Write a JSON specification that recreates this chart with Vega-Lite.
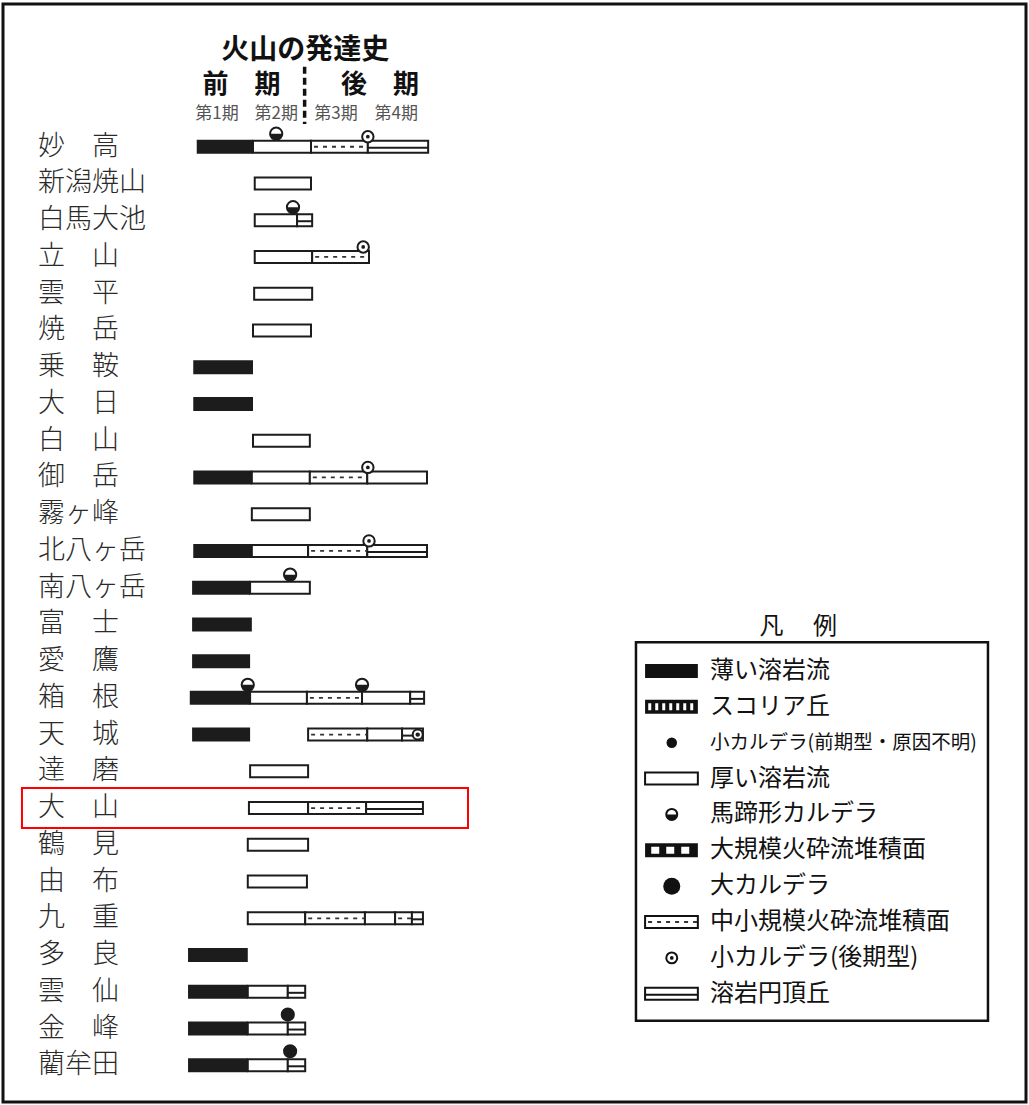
{
  "$schema": "https://vega.github.io/schema/vega-lite/v6.json",
  "width": 1029,
  "height": 1105,
  "autosize": {"type": "fit", "contains": "padding"},
  "padding": {"left": 3, "top": 4, "right": 3, "bottom": 3},
  "background": "white",
  "config": {"view": {"stroke": "#111111", "strokeWidth": 3}, "font": "Noto Sans CJK JP"},
  "datasets": {
    "volcanoes": [
      {"row": 0, "name": "妙高", "label": "妙　高"},
      {"row": 1, "name": "新潟焼山", "label": "新潟焼山"},
      {"row": 2, "name": "白馬大池", "label": "白馬大池"},
      {"row": 3, "name": "立山", "label": "立　山"},
      {"row": 4, "name": "雲平", "label": "雲　平"},
      {"row": 5, "name": "焼岳", "label": "焼　岳"},
      {"row": 6, "name": "乗鞍", "label": "乗　鞍"},
      {"row": 7, "name": "大日", "label": "大　日"},
      {"row": 8, "name": "白山", "label": "白　山"},
      {"row": 9, "name": "御岳", "label": "御　岳"},
      {"row": 10, "name": "霧ヶ峰", "label": "霧ヶ峰"},
      {"row": 11, "name": "北八ヶ岳", "label": "北八ヶ岳"},
      {"row": 12, "name": "南八ヶ岳", "label": "南八ヶ岳"},
      {"row": 13, "name": "富士", "label": "富　士"},
      {"row": 14, "name": "愛鷹", "label": "愛　鷹"},
      {"row": 15, "name": "箱根", "label": "箱　根"},
      {"row": 16, "name": "天城", "label": "天　城"},
      {"row": 17, "name": "達磨", "label": "達　磨"},
      {"row": 18, "name": "大山", "label": "大　山"},
      {"row": 19, "name": "鶴見", "label": "鶴　見"},
      {"row": 20, "name": "由布", "label": "由　布"},
      {"row": 21, "name": "九重", "label": "九　重"},
      {"row": 22, "name": "多良", "label": "多　良"},
      {"row": 23, "name": "雲仙", "label": "雲　仙"},
      {"row": 24, "name": "金峰", "label": "金　峰"},
      {"row": 25, "name": "藺牟田", "label": "藺牟田"}
    ],
    "segs": [
      {"name": "妙高", "row": 0, "type": "thin", "start": 0.03, "end": 1.0},
      {"name": "妙高", "row": 0, "type": "thick", "start": 1.0, "end": 2.0},
      {"name": "妙高", "row": 0, "type": "pyro", "start": 2.0, "end": 2.98},
      {"name": "妙高", "row": 0, "type": "dome", "start": 2.98, "end": 4.02},
      {"name": "新潟焼山", "row": 1, "type": "thick", "start": 1.03, "end": 2.0},
      {"name": "白馬大池", "row": 2, "type": "thick", "start": 1.03, "end": 1.76},
      {"name": "白馬大池", "row": 2, "type": "dome", "start": 1.76, "end": 2.02},
      {"name": "立山", "row": 3, "type": "thick", "start": 1.03, "end": 2.02},
      {"name": "立山", "row": 3, "type": "pyro", "start": 2.02, "end": 3.0},
      {"name": "雲平", "row": 4, "type": "thick", "start": 1.02, "end": 2.02},
      {"name": "焼岳", "row": 5, "type": "thick", "start": 1.0, "end": 2.0},
      {"name": "乗鞍", "row": 6, "type": "thin", "start": -0.03, "end": 1.0},
      {"name": "大日", "row": 7, "type": "thin", "start": -0.03, "end": 1.0},
      {"name": "白山", "row": 8, "type": "thick", "start": 1.0, "end": 1.98},
      {"name": "御岳", "row": 9, "type": "thin", "start": -0.03, "end": 0.98},
      {"name": "御岳", "row": 9, "type": "thick", "start": 0.98, "end": 1.98},
      {"name": "御岳", "row": 9, "type": "pyro", "start": 1.98, "end": 2.97},
      {"name": "御岳", "row": 9, "type": "thick", "start": 2.97, "end": 4.0},
      {"name": "霧ヶ峰", "row": 10, "type": "thick", "start": 0.98, "end": 1.98},
      {"name": "北八ヶ岳", "row": 11, "type": "thin", "start": -0.03, "end": 0.98},
      {"name": "北八ヶ岳", "row": 11, "type": "thick", "start": 0.98, "end": 1.95},
      {"name": "北八ヶ岳", "row": 11, "type": "pyro", "start": 1.95, "end": 2.97},
      {"name": "北八ヶ岳", "row": 11, "type": "dome", "start": 2.97, "end": 4.0},
      {"name": "南八ヶ岳", "row": 12, "type": "thin", "start": -0.05, "end": 0.95},
      {"name": "南八ヶ岳", "row": 12, "type": "thick", "start": 0.95, "end": 1.98},
      {"name": "富士", "row": 13, "type": "thin", "start": -0.05, "end": 0.98},
      {"name": "愛鷹", "row": 14, "type": "thin", "start": -0.05, "end": 0.95},
      {"name": "箱根", "row": 15, "type": "thin", "start": -0.09, "end": 0.95},
      {"name": "箱根", "row": 15, "type": "thick", "start": 0.95, "end": 1.93},
      {"name": "箱根", "row": 15, "type": "pyro", "start": 1.93, "end": 2.88},
      {"name": "箱根", "row": 15, "type": "thick", "start": 2.88, "end": 3.71},
      {"name": "箱根", "row": 15, "type": "dome", "start": 3.71, "end": 3.95},
      {"name": "天城", "row": 16, "type": "thin", "start": -0.05, "end": 0.95},
      {"name": "天城", "row": 16, "type": "pyro", "start": 1.95, "end": 2.97},
      {"name": "天城", "row": 16, "type": "thick", "start": 2.97, "end": 3.57},
      {"name": "天城", "row": 16, "type": "dome", "start": 3.57, "end": 3.93},
      {"name": "達磨", "row": 17, "type": "thick", "start": 0.95, "end": 1.95},
      {"name": "大山", "row": 18, "type": "thick", "start": 0.93, "end": 1.95},
      {"name": "大山", "row": 18, "type": "pyro", "start": 1.95, "end": 2.95},
      {"name": "大山", "row": 18, "type": "dome", "start": 2.95, "end": 3.93},
      {"name": "鶴見", "row": 19, "type": "thick", "start": 0.91, "end": 1.95},
      {"name": "由布", "row": 20, "type": "thick", "start": 0.91, "end": 1.93},
      {"name": "九重", "row": 21, "type": "thick", "start": 0.91, "end": 1.9},
      {"name": "九重", "row": 21, "type": "pyro", "start": 1.9, "end": 2.93},
      {"name": "九重", "row": 21, "type": "thick", "start": 2.93, "end": 3.45},
      {"name": "九重", "row": 21, "type": "pyro", "start": 3.45, "end": 3.74},
      {"name": "九重", "row": 21, "type": "dome", "start": 3.74, "end": 3.93},
      {"name": "多良", "row": 22, "type": "thin", "start": -0.12, "end": 0.91},
      {"name": "雲仙", "row": 23, "type": "thin", "start": -0.12, "end": 0.91},
      {"name": "雲仙", "row": 23, "type": "thick", "start": 0.91, "end": 1.6},
      {"name": "雲仙", "row": 23, "type": "dome", "start": 1.6, "end": 1.9},
      {"name": "金峰", "row": 24, "type": "thin", "start": -0.12, "end": 0.91},
      {"name": "金峰", "row": 24, "type": "thick", "start": 0.91, "end": 1.6},
      {"name": "金峰", "row": 24, "type": "dome", "start": 1.6, "end": 1.9},
      {"name": "藺牟田", "row": 25, "type": "thin", "start": -0.12, "end": 0.91},
      {"name": "藺牟田", "row": 25, "type": "thick", "start": 0.91, "end": 1.6},
      {"name": "藺牟田", "row": 25, "type": "dome", "start": 1.6, "end": 1.9}
    ],
    "calderas": [
      {"name": "妙高", "row": 0, "type": "horseshoe", "at": "top", "x": 1.4},
      {"name": "妙高", "row": 0, "type": "smallLate", "at": "top", "x": 2.98},
      {"name": "白馬大池", "row": 2, "type": "horseshoe", "at": "top", "x": 1.69},
      {"name": "立山", "row": 3, "type": "smallLate", "at": "top", "x": 2.9},
      {"name": "御岳", "row": 9, "type": "smallLate", "at": "top", "x": 2.98},
      {"name": "北八ヶ岳", "row": 11, "type": "smallLate", "at": "top", "x": 3.0},
      {"name": "南八ヶ岳", "row": 12, "type": "horseshoe", "at": "top", "x": 1.64},
      {"name": "箱根", "row": 15, "type": "horseshoe", "at": "top", "x": 0.91},
      {"name": "箱根", "row": 15, "type": "horseshoe", "at": "top", "x": 2.88},
      {"name": "天城", "row": 16, "type": "smallLate", "at": "bar", "x": 3.84},
      {"name": "金峰", "row": 24, "type": "large", "at": "top", "x": 1.6},
      {"name": "藺牟田", "row": 25, "type": "large", "at": "top", "x": 1.64}
    ],
    "periods": [
      {"label": "第1期", "mid": 0.38},
      {"label": "第2期", "mid": 1.4},
      {"label": "第3期", "mid": 2.43},
      {"label": "第4期", "mid": 3.47}
    ],
    "phases": [
      {"label": "前　期", "mid": 0.8},
      {"label": "後　期", "mid": 3.19}
    ],
    "legend": [
      {"k": 0, "type": "thin", "label": "薄い溶岩流"},
      {"k": 1, "type": "scoria", "label": "スコリア丘"},
      {"k": 2, "type": "smallEarly", "label": "小カルデラ(前期型・原因不明)"},
      {"k": 3, "type": "thick", "label": "厚い溶岩流"},
      {"k": 4, "type": "horseshoe", "label": "馬蹄形カルデラ"},
      {"k": 5, "type": "largePyro", "label": "大規模火砕流堆積面"},
      {"k": 6, "type": "large", "label": "大カルデラ"},
      {"k": 7, "type": "pyro", "label": "中小規模火砕流堆積面"},
      {"k": 8, "type": "smallLate", "label": "小カルデラ(後期型)"},
      {"k": 9, "type": "dome", "label": "溶岩円頂丘"}
    ]
  },
  "layer": [
    {
      "layer": [
        {
          "data": {"name": "segs"},
          "transform": [{"filter": "datum.type === 'thin'"}],
          "mark": {"type": "bar", "orient": "horizontal", "size": 14, "fill": "#1c1c1c"},
          "encoding": {
            "x": {"field": "start", "type": "quantitative", "scale": {"domain": [-3.3103, 14.3276], "nice": false, "zero": false}, "axis": null},
            "x2": {"field": "end"},
            "y": {"field": "row", "type": "quantitative", "scale": {"domain": [-3.7487, 25.863], "nice": false, "zero": false, "reverse": true}, "axis": null}
          }
        },
        {
          "data": {"name": "segs"},
          "transform": [{"filter": "datum.type !== 'thin'"}],
          "mark": {"type": "bar", "orient": "horizontal", "size": 12, "fill": "white", "stroke": "#1c1c1c", "strokeWidth": 2},
          "encoding": {
            "x": {"field": "start", "type": "quantitative", "scale": {"domain": [-3.3103, 14.3276], "nice": false, "zero": false}, "axis": null},
            "x2": {"field": "end"},
            "y": {"field": "row", "type": "quantitative", "scale": {"domain": [-3.7487, 25.863], "nice": false, "zero": false, "reverse": true}, "axis": null}
          }
        },
        {
          "data": {"name": "segs"},
          "transform": [{"filter": "datum.type === 'pyro'"}],
          "mark": {"type": "rule", "stroke": "#333333", "strokeWidth": 1.8, "strokeDash": [4, 5], "strokeDashOffset": 6},
          "encoding": {
            "x": {"field": "start", "type": "quantitative", "scale": {"domain": [-3.3103, 14.3276], "nice": false, "zero": false}, "axis": null},
            "x2": {"field": "end"},
            "y": {"field": "row", "type": "quantitative", "scale": {"domain": [-3.7487, 25.863], "nice": false, "zero": false, "reverse": true}, "axis": null}
          }
        },
        {
          "data": {"name": "segs"},
          "transform": [{"filter": "datum.type === 'dome'"}],
          "mark": {"type": "rule", "stroke": "#1c1c1c", "strokeWidth": 2, "yOffset": 1},
          "encoding": {
            "x": {"field": "start", "type": "quantitative", "scale": {"domain": [-3.3103, 14.3276], "nice": false, "zero": false}, "axis": null},
            "x2": {"field": "end"},
            "y": {"field": "row", "type": "quantitative", "scale": {"domain": [-3.7487, 25.863], "nice": false, "zero": false, "reverse": true}, "axis": null}
          }
        },
        {
          "data": {"name": "calderas"},
          "transform": [{"filter": "datum.type === 'horseshoe'"}],
          "mark": {"type": "point", "shape": "circle", "size": 150, "filled": true, "fill": "white", "stroke": "#1c1c1c", "strokeWidth": 2, "opacity": 1, "yOffset": -13},
          "encoding": {
            "x": {"field": "x", "type": "quantitative", "scale": {"domain": [-3.3103, 14.3276], "nice": false, "zero": false}, "axis": null},
            "y": {"field": "row", "type": "quantitative", "scale": {"domain": [-3.7487, 25.863], "nice": false, "zero": false, "reverse": true}, "axis": null}
          }
        },
        {
          "data": {"name": "calderas"},
          "transform": [{"filter": "datum.type === 'horseshoe'"}],
          "mark": {"type": "point", "shape": "M -1 0 A 1 1 0 0 0 1 0 Z", "size": 150, "filled": true, "fill": "#1c1c1c", "strokeWidth": 0, "opacity": 1, "yOffset": -13},
          "encoding": {
            "x": {"field": "x", "type": "quantitative", "scale": {"domain": [-3.3103, 14.3276], "nice": false, "zero": false}, "axis": null},
            "y": {"field": "row", "type": "quantitative", "scale": {"domain": [-3.7487, 25.863], "nice": false, "zero": false, "reverse": true}, "axis": null}
          }
        },
        {
          "data": {"name": "calderas"},
          "transform": [{"filter": "datum.type === 'smallLate' && datum.at === 'top'"}],
          "mark": {"type": "point", "shape": "circle", "size": 130, "filled": true, "fill": "white", "stroke": "#1c1c1c", "strokeWidth": 2, "opacity": 1, "yOffset": -10},
          "encoding": {
            "x": {"field": "x", "type": "quantitative", "scale": {"domain": [-3.3103, 14.3276], "nice": false, "zero": false}, "axis": null},
            "y": {"field": "row", "type": "quantitative", "scale": {"domain": [-3.7487, 25.863], "nice": false, "zero": false, "reverse": true}, "axis": null}
          }
        },
        {
          "data": {"name": "calderas"},
          "transform": [{"filter": "datum.type === 'smallLate' && datum.at === 'top'"}],
          "mark": {"type": "point", "shape": "circle", "size": 14, "filled": true, "fill": "#1c1c1c", "opacity": 1, "yOffset": -10},
          "encoding": {
            "x": {"field": "x", "type": "quantitative", "scale": {"domain": [-3.3103, 14.3276], "nice": false, "zero": false}, "axis": null},
            "y": {"field": "row", "type": "quantitative", "scale": {"domain": [-3.7487, 25.863], "nice": false, "zero": false, "reverse": true}, "axis": null}
          }
        },
        {
          "data": {"name": "calderas"},
          "transform": [{"filter": "datum.type === 'smallLate' && datum.at === 'bar'"}],
          "mark": {"type": "point", "shape": "circle", "size": 100, "filled": true, "fill": "white", "stroke": "#1c1c1c", "strokeWidth": 2, "opacity": 1},
          "encoding": {
            "x": {"field": "x", "type": "quantitative", "scale": {"domain": [-3.3103, 14.3276], "nice": false, "zero": false}, "axis": null},
            "y": {"field": "row", "type": "quantitative", "scale": {"domain": [-3.7487, 25.863], "nice": false, "zero": false, "reverse": true}, "axis": null}
          }
        },
        {
          "data": {"name": "calderas"},
          "transform": [{"filter": "datum.type === 'smallLate' && datum.at === 'bar'"}],
          "mark": {"type": "point", "shape": "circle", "size": 20, "filled": true, "fill": "#1c1c1c", "opacity": 1},
          "encoding": {
            "x": {"field": "x", "type": "quantitative", "scale": {"domain": [-3.3103, 14.3276], "nice": false, "zero": false}, "axis": null},
            "y": {"field": "row", "type": "quantitative", "scale": {"domain": [-3.7487, 25.863], "nice": false, "zero": false, "reverse": true}, "axis": null}
          }
        },
        {
          "data": {"name": "calderas"},
          "transform": [{"filter": "datum.type === 'large'"}],
          "mark": {"type": "point", "shape": "circle", "size": 200, "filled": true, "fill": "#1c1c1c", "opacity": 1, "yOffset": -14},
          "encoding": {
            "x": {"field": "x", "type": "quantitative", "scale": {"domain": [-3.3103, 14.3276], "nice": false, "zero": false}, "axis": null},
            "y": {"field": "row", "type": "quantitative", "scale": {"domain": [-3.7487, 25.863], "nice": false, "zero": false, "reverse": true}, "axis": null}
          }
        },
        {
          "data": {"name": "volcanoes"},
          "mark": {"type": "text", "align": "left", "baseline": "middle", "fontSize": 27, "fontWeight": 300, "fill": "#2a2a2a", "font": "Noto Sans CJK JP"},
          "encoding": {
            "x": {"datum": -2.707, "type": "quantitative", "scale": {"domain": [-3.3103, 14.3276], "nice": false, "zero": false}, "axis": null},
            "y": {"field": "row", "type": "quantitative", "scale": {"domain": [-3.7487, 25.863], "nice": false, "zero": false, "reverse": true}, "axis": null},
            "text": {"field": "label"}
          }
        },
        {
          "data": {"values": [{"label": "火山の発達史"}]},
          "mark": {"type": "text", "align": "center", "baseline": "middle", "fontSize": 28, "fontWeight": "bold", "fill": "#111111", "font": "Noto Sans CJK JP"},
          "encoding": {
            "x": {"datum": 1.9, "type": "quantitative", "scale": {"domain": [-3.3103, 14.3276], "nice": false, "zero": false}, "axis": null},
            "y": {"datum": -2.616, "type": "quantitative", "scale": {"domain": [-3.7487, 25.863], "nice": false, "zero": false, "reverse": true}, "axis": null},
            "text": {"field": "label"}
          }
        },
        {
          "data": {"name": "phases"},
          "mark": {"type": "text", "align": "center", "baseline": "middle", "fontSize": 26, "fontWeight": "bold", "fill": "#111111", "font": "Noto Sans CJK JP"},
          "encoding": {
            "x": {"field": "mid", "type": "quantitative", "scale": {"domain": [-3.3103, 14.3276], "nice": false, "zero": false}, "axis": null},
            "y": {"datum": -1.672, "type": "quantitative", "scale": {"domain": [-3.7487, 25.863], "nice": false, "zero": false, "reverse": true}, "axis": null},
            "text": {"field": "label"}
          }
        },
        {
          "data": {"name": "periods"},
          "mark": {"type": "text", "align": "center", "baseline": "middle", "fontSize": 17, "fill": "#555555", "font": "Noto Sans CJK JP"},
          "encoding": {
            "x": {"field": "mid", "type": "quantitative", "scale": {"domain": [-3.3103, 14.3276], "nice": false, "zero": false}, "axis": null},
            "y": {"datum": -0.89, "type": "quantitative", "scale": {"domain": [-3.7487, 25.863], "nice": false, "zero": false, "reverse": true}, "axis": null},
            "text": {"field": "label"}
          }
        },
        {
          "data": {"values": [{}]},
          "mark": {"type": "rule", "stroke": "#111111", "strokeWidth": 3.5, "strokeDash": [7, 4]},
          "encoding": {
            "x": {"datum": 1.89, "type": "quantitative", "scale": {"domain": [-3.3103, 14.3276], "nice": false, "zero": false}, "axis": null},
            "y": {"datum": -2.18, "type": "quantitative", "scale": {"domain": [-3.7487, 25.863], "nice": false, "zero": false, "reverse": true}, "axis": null},
            "y2": {"datum": -0.62}
          }
        },
        {
          "data": {"name": "volcanoes"},
          "transform": [{"filter": "datum.name === '大山'"}],
          "mark": {"type": "bar", "orient": "horizontal", "size": 40, "fill": "white", "fillOpacity": 0, "stroke": "#ff0000", "strokeWidth": 2},
          "encoding": {
            "x": {"datum": -2.983, "type": "quantitative", "scale": {"domain": [-3.3103, 14.3276], "nice": false, "zero": false}, "axis": null},
            "x2": {"datum": 4.707},
            "y": {"field": "row", "type": "quantitative", "scale": {"domain": [-3.7487, 25.863], "nice": false, "zero": false, "reverse": true}, "axis": null}
          }
        }
      ]
    },
    {
      "layer": [
        {
          "data": {"values": [{}]},
          "mark": {"type": "rect", "fill": "white", "stroke": "#111111", "strokeWidth": 2.5},
          "encoding": {
            "x": {"datum": 7.603, "type": "quantitative", "scale": {"domain": [-3.3103, 14.3276], "nice": false, "zero": false}, "axis": null},
            "x2": {"datum": 13.672},
            "y": {"datum": -0.801, "type": "quantitative", "scale": {"domain": [-18.453, 11.878], "nice": false, "zero": false, "reverse": true}, "axis": null},
            "y2": {"datum": 9.751}
          }
        },
        {
          "data": {"values": [{"label": "凡　 例"}]},
          "mark": {"type": "text", "align": "center", "baseline": "middle", "fontSize": 24, "fill": "#111111", "font": "Noto Sans CJK JP"},
          "encoding": {
            "x": {"datum": 10.4, "type": "quantitative", "scale": {"domain": [-3.3103, 14.3276], "nice": false, "zero": false}, "axis": null},
            "y": {"datum": -1.215, "type": "quantitative", "scale": {"domain": [-18.453, 11.878], "nice": false, "zero": false, "reverse": true}, "axis": null},
            "text": {"field": "label"}
          }
        },
        {
          "data": {"name": "legend"},
          "transform": [{"filter": "datum.type === 'thin' || datum.type === 'scoria' || datum.type === 'largePyro'"}],
          "mark": {"type": "bar", "orient": "horizontal", "size": 14, "fill": "#111111"},
          "encoding": {
            "x": {"datum": 7.76, "type": "quantitative", "scale": {"domain": [-3.3103, 14.3276], "nice": false, "zero": false}, "axis": null},
            "x2": {"datum": 8.67},
            "y": {"field": "k", "type": "quantitative", "scale": {"domain": [-18.453, 11.878], "nice": false, "zero": false, "reverse": true}, "axis": null}
          }
        },
        {
          "data": {"name": "legend"},
          "transform": [{"filter": "datum.type === 'scoria'"}],
          "mark": {"type": "rule", "stroke": "white", "strokeWidth": 7, "strokeDash": [3, 4], "strokeDashOffset": 5},
          "encoding": {
            "x": {"datum": 7.78, "type": "quantitative", "scale": {"domain": [-3.3103, 14.3276], "nice": false, "zero": false}, "axis": null},
            "x2": {"datum": 8.64},
            "y": {"field": "k", "type": "quantitative", "scale": {"domain": [-18.453, 11.878], "nice": false, "zero": false, "reverse": true}, "axis": null}
          }
        },
        {
          "data": {"name": "legend"},
          "transform": [{"filter": "datum.type === 'largePyro'"}],
          "mark": {"type": "rule", "stroke": "white", "strokeWidth": 7, "strokeDash": [8, 7], "strokeDashOffset": 10},
          "encoding": {
            "x": {"datum": 7.78, "type": "quantitative", "scale": {"domain": [-3.3103, 14.3276], "nice": false, "zero": false}, "axis": null},
            "x2": {"datum": 8.64},
            "y": {"field": "k", "type": "quantitative", "scale": {"domain": [-18.453, 11.878], "nice": false, "zero": false, "reverse": true}, "axis": null}
          }
        },
        {
          "data": {"name": "legend"},
          "transform": [{"filter": "datum.type === 'thick' || datum.type === 'pyro' || datum.type === 'dome'"}],
          "mark": {"type": "bar", "orient": "horizontal", "size": 12, "fill": "white", "stroke": "#111111", "strokeWidth": 2},
          "encoding": {
            "x": {"datum": 7.76, "type": "quantitative", "scale": {"domain": [-3.3103, 14.3276], "nice": false, "zero": false}, "axis": null},
            "x2": {"datum": 8.67},
            "y": {"field": "k", "type": "quantitative", "scale": {"domain": [-18.453, 11.878], "nice": false, "zero": false, "reverse": true}, "axis": null}
          }
        },
        {
          "data": {"name": "legend"},
          "transform": [{"filter": "datum.type === 'pyro'"}],
          "mark": {"type": "rule", "stroke": "#333333", "strokeWidth": 1.8, "strokeDash": [4, 5], "strokeDashOffset": 6},
          "encoding": {
            "x": {"datum": 7.76, "type": "quantitative", "scale": {"domain": [-3.3103, 14.3276], "nice": false, "zero": false}, "axis": null},
            "x2": {"datum": 8.67},
            "y": {"field": "k", "type": "quantitative", "scale": {"domain": [-18.453, 11.878], "nice": false, "zero": false, "reverse": true}, "axis": null}
          }
        },
        {
          "data": {"name": "legend"},
          "transform": [{"filter": "datum.type === 'dome'"}],
          "mark": {"type": "rule", "stroke": "#111111", "strokeWidth": 2, "yOffset": 1},
          "encoding": {
            "x": {"datum": 7.76, "type": "quantitative", "scale": {"domain": [-3.3103, 14.3276], "nice": false, "zero": false}, "axis": null},
            "x2": {"datum": 8.67},
            "y": {"field": "k", "type": "quantitative", "scale": {"domain": [-18.453, 11.878], "nice": false, "zero": false, "reverse": true}, "axis": null}
          }
        },
        {
          "data": {"name": "legend"},
          "transform": [{"filter": "datum.type === 'smallEarly'"}],
          "mark": {"type": "point", "shape": "circle", "size": 110, "filled": true, "fill": "#111111", "opacity": 1},
          "encoding": {
            "x": {"datum": 8.22, "type": "quantitative", "scale": {"domain": [-3.3103, 14.3276], "nice": false, "zero": false}, "axis": null},
            "y": {"field": "k", "type": "quantitative", "scale": {"domain": [-18.453, 11.878], "nice": false, "zero": false, "reverse": true}, "axis": null}
          }
        },
        {
          "data": {"name": "legend"},
          "transform": [{"filter": "datum.type === 'large'"}],
          "mark": {"type": "point", "shape": "circle", "size": 290, "filled": true, "fill": "#111111", "opacity": 1},
          "encoding": {
            "x": {"datum": 8.22, "type": "quantitative", "scale": {"domain": [-3.3103, 14.3276], "nice": false, "zero": false}, "axis": null},
            "y": {"field": "k", "type": "quantitative", "scale": {"domain": [-18.453, 11.878], "nice": false, "zero": false, "reverse": true}, "axis": null}
          }
        },
        {
          "data": {"name": "legend"},
          "transform": [{"filter": "datum.type === 'horseshoe' || datum.type === 'smallLate'"}],
          "mark": {"type": "point", "shape": "circle", "size": 120, "filled": true, "fill": "white", "stroke": "#111111", "strokeWidth": 2, "opacity": 1},
          "encoding": {
            "x": {"datum": 8.22, "type": "quantitative", "scale": {"domain": [-3.3103, 14.3276], "nice": false, "zero": false}, "axis": null},
            "y": {"field": "k", "type": "quantitative", "scale": {"domain": [-18.453, 11.878], "nice": false, "zero": false, "reverse": true}, "axis": null}
          }
        },
        {
          "data": {"name": "legend"},
          "transform": [{"filter": "datum.type === 'horseshoe'"}],
          "mark": {"type": "point", "shape": "M -1 0 A 1 1 0 0 0 1 0 Z", "size": 120, "filled": true, "fill": "#111111", "strokeWidth": 0, "opacity": 1},
          "encoding": {
            "x": {"datum": 8.22, "type": "quantitative", "scale": {"domain": [-3.3103, 14.3276], "nice": false, "zero": false}, "axis": null},
            "y": {"field": "k", "type": "quantitative", "scale": {"domain": [-18.453, 11.878], "nice": false, "zero": false, "reverse": true}, "axis": null}
          }
        },
        {
          "data": {"name": "legend"},
          "transform": [{"filter": "datum.type === 'smallLate'"}],
          "mark": {"type": "point", "shape": "circle", "size": 14, "filled": true, "fill": "#111111", "opacity": 1},
          "encoding": {
            "x": {"datum": 8.22, "type": "quantitative", "scale": {"domain": [-3.3103, 14.3276], "nice": false, "zero": false}, "axis": null},
            "y": {"field": "k", "type": "quantitative", "scale": {"domain": [-18.453, 11.878], "nice": false, "zero": false, "reverse": true}, "axis": null}
          }
        },
        {
          "data": {"name": "legend"},
          "transform": [{"filter": "datum.type !== 'smallEarly'"}],
          "mark": {"type": "text", "align": "left", "baseline": "middle", "fontSize": 24, "fill": "#111111", "font": "Noto Sans CJK JP"},
          "encoding": {
            "x": {"datum": 8.88, "type": "quantitative", "scale": {"domain": [-3.3103, 14.3276], "nice": false, "zero": false}, "axis": null},
            "y": {"field": "k", "type": "quantitative", "scale": {"domain": [-18.453, 11.878], "nice": false, "zero": false, "reverse": true}, "axis": null},
            "text": {"field": "label"}
          }
        },
        {
          "data": {"name": "legend"},
          "transform": [{"filter": "datum.type === 'smallEarly'"}],
          "mark": {"type": "text", "align": "left", "baseline": "middle", "fontSize": 19.5, "fill": "#111111", "font": "Noto Sans CJK JP"},
          "encoding": {
            "x": {"datum": 8.88, "type": "quantitative", "scale": {"domain": [-3.3103, 14.3276], "nice": false, "zero": false}, "axis": null},
            "y": {"field": "k", "type": "quantitative", "scale": {"domain": [-18.453, 11.878], "nice": false, "zero": false, "reverse": true}, "axis": null},
            "text": {"field": "label"}
          }
        }
      ]
    }
  ],
  "resolve": {"scale": {"y": "independent"}}
}
